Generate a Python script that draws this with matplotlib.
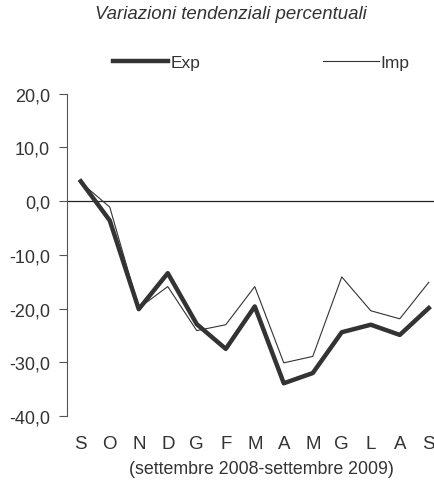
import numpy as np
import matplotlib
matplotlib.use("Agg")
import matplotlib.pyplot as plt

plt.rcParams['font.family'] = ['Liberation Sans', 'DejaVu Sans']

months = ["S", "O", "N", "D", "G", "F", "M", "A", "M", "G", "L", "A", "S"]
exp_vals = [3.7, -3.6, -20.1, -13.4, -22.9, -27.5, -19.6, -33.9, -32.0, -24.4, -23.0, -24.9, -19.9]
imp_vals = [3.5, -1.1, -19.9, -15.9, -24.1, -23.0, -15.9, -30.1, -28.9, -14.1, -20.4, -21.9, -15.1]
y_ticks = [20, 10, 0, -10, -20, -30, -40]

dark = "#333333"

fig = plt.figure(figsize=(4.34, 4.81), dpi=100)
ax = fig.add_axes([0.154, 0.133, 0.846, 0.670])

x = np.arange(len(months))
ax.axhline(0, color="#222222", lw=0.9, zorder=1)
l_imp, = ax.plot(x, imp_vals, color=dark, lw=0.8, label="Imp", zorder=2)
l_exp, = ax.plot(x, exp_vals, color=dark, lw=3.2, label="Exp", zorder=3)

ax.set_xlim(-0.48, 12.18)
ax.set_ylim(-40, 20)
ax.set_yticks(y_ticks)
ax.set_yticklabels([f"{v:.1f}".replace(".", ",") for v in y_ticks], fontsize=13, color=dark)
ax.set_xticks(x)
ax.set_xticklabels(months, fontsize=13.5, color=dark)
ax.tick_params(axis="x", length=0, pad=14)
ax.tick_params(axis="y", length=6, width=0.8, color="#555555", pad=6)

for s in ["top", "right", "bottom"]:
    ax.spines[s].set_visible(False)
ax.spines["left"].set_color("#555555")
ax.spines["left"].set_linewidth(0.8)

fig.text(0.6025, 0.023, "(settembre 2008-settembre 2009)", ha="center", va="center",
         fontsize=12.8, color=dark)

fig.text(0.532, 0.969, "Variazioni tendenziali percentuali", ha="center", va="center",
         fontsize=13.4, style="italic", color=dark)

leg = fig.legend(handles=[l_exp, l_imp], loc="center", bbox_to_anchor=(0.602, 0.869),
                 ncol=2, frameon=False, fontsize=12.5, handlelength=3.2,
                 handletextpad=0.1, columnspacing=7.1, labelcolor=dark)

fig.savefig("out.png", dpi=100)
